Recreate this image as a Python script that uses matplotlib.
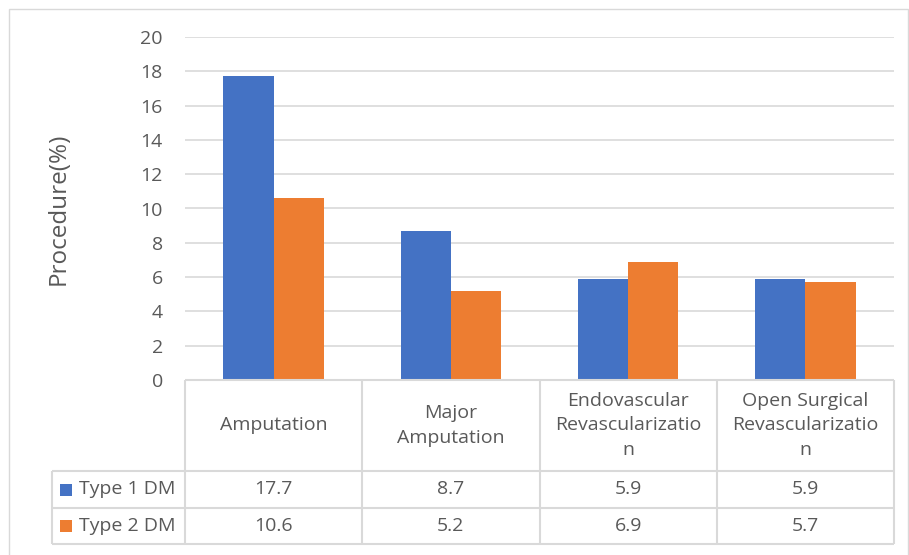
import matplotlib.pyplot as plt
import numpy as np
from matplotlib.patches import Rectangle

categories = [
    "Amputation",
    "Major\nAmputation",
    "Endovascular\nRevascularizatio\nn",
    "Open Surgical\nRevascularizatio\nn",
]
series_names = ["Type 1 DM", "Type 2 DM"]
type1_dm = [17.7, 8.7, 5.9, 5.9]
type2_dm = [10.6, 5.2, 6.9, 5.7]
y_ticks = [0, 2, 4, 6, 8, 10, 12, 14, 16, 18, 20]

BLUE = "#4472C4"
ORANGE = "#ED7D31"
GRID = "#d9d9d9"
TEXT = "#595959"
FONT = 14

W, H = 909, 555


def box(left, top, right, bottom):
    """Pixel box -> figure-fraction rect."""
    return [left / W, 1 - bottom / H, (right - left) / W, (bottom - top) / H]


plt.rcParams["font.family"] = ["Open Sans", "DejaVu Sans"]

fig = plt.figure(figsize=(W / 100, H / 100), dpi=100)
fig.patch.set_facecolor("white")

# chart frame
fig.add_artist(Rectangle((9 / W, -0.05), (908 - 9) / W, 1.05 - 9 / H,
                         transform=fig.transFigure, fill=False,
                         edgecolor=GRID, lw=1))

# bar area
ax = fig.add_axes(box(185, 37, 894, 380))
x = np.arange(len(categories))
width = 0.283
ax.bar(x - width / 2, type1_dm, width, color=BLUE, zorder=2)
ax.bar(x + width / 2, type2_dm, width, color=ORANGE, zorder=2)
ax.set_xlim(-0.5, len(categories) - 0.5)
ax.set_ylim(0, 20)
ax.set_yticks(y_ticks)
ax.set_xticks([])
ax.yaxis.grid(True, color=GRID, lw=1.2)
ax.set_axisbelow(True)
for side in ax.spines.values():
    side.set_visible(False)
ax.tick_params(axis="y", length=0, pad=16, labelsize=FONT, labelcolor=TEXT)

fig.text(59 / W, 1 - 209 / H, "Procedure(%)", rotation=90, ha="center",
         va="center", fontsize=17.5, color=TEXT)

# data table under the bars, x in category units, y in pixels
key_col = 133 / 177.25
tax = fig.add_axes(box(52, 380, 894, 544))
tax.set_xlim(-0.5 - key_col, len(categories) - 0.5)
tax.set_ylim(164, 0)
tax.axis("off")

left = -0.5 - key_col
right = len(categories) - 0.5
line_kw = dict(color=GRID, lw=1.5, clip_on=False, solid_capstyle="butt")
tax.plot([-0.5, right], [0, 0], **line_kw)
for yy in (91, 128, 164):
    tax.plot([left, right], [yy, yy], **line_kw)
for xx in np.arange(-0.5, right + 0.01, 1.0):
    tax.plot([xx, xx], [0, 164], **line_kw)
tax.plot([left, left], [91, 164], **line_kw)

for i, name in enumerate(categories):
    tax.text(i, 45.5, name, ha="center", va="center", fontsize=FONT,
             color=TEXT, linespacing=1.45)

rows = [(series_names[0], type1_dm, BLUE, 109.5),
        (series_names[1], type2_dm, ORANGE, 146)]
px = 1 / 177.25
for name, values, color, yc in rows:
    tax.add_patch(Rectangle((left + 8 * px, yc - 6), 12 * px, 12,
                            facecolor=color, edgecolor="none", clip_on=False))
    tax.text(left + 27 * px, yc, name, ha="left", va="center",
             fontsize=FONT, color=TEXT)
    for i, v in enumerate(values):
        tax.text(i, yc, f"{v:.1f}", ha="center", va="center",
                 fontsize=FONT, color=TEXT)

fig.savefig("out.png", dpi=100)
